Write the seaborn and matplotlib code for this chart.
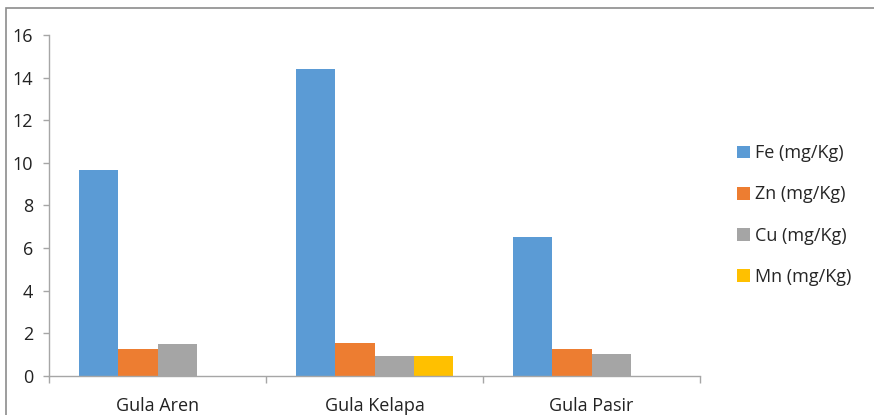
import numpy as np
import pandas as pd
import matplotlib
matplotlib.use("Agg")
import matplotlib.pyplot as plt
from matplotlib.patches import Rectangle
import seaborn as sns

# Mineral content of three kinds of palm/cane sugar
categories = ["Gula Aren", "Gula Kelapa", "Gula Pasir"]
series = ["Fe (mg/Kg)", "Zn (mg/Kg)", "Cu (mg/Kg)", "Mn (mg/Kg)"]
fe = [9.67, 14.41, 6.54]
zn = [1.27, 1.56, 1.27]
cu = [1.49, 0.95, 1.03]
mn = [0.0, 0.95, 0.0]
colors = ["#5B9BD5", "#ED7D31", "#A5A5A5", "#FFC000"]

rows = []
for name, vals in zip(series, [fe, zn, cu, mn]):
    for cat, v in zip(categories, vals):
        rows.append({"Sugar": cat, "Element": name, "Value": v})
df = pd.DataFrame(rows)

sns.set_style("white")
plt.rcParams["font.family"] = ["Open Sans", "DejaVu Sans"]

fig = plt.figure(figsize=(8.74, 4.15), dpi=100)
ax = fig.add_axes([49 / 874, 1 - 376 / 415, (700 - 49) / 874, (376 - 35) / 415])

sns.barplot(data=df, x="Sugar", y="Value", hue="Element", order=categories,
            hue_order=series, palette=colors, width=0.72, gap=0,
            linewidth=0, saturation=1, errorbar=None, ax=ax)

ax.set_xlim(-0.5, 2.5)
ax.set_ylim(0, 16)
ax.set_yticks(np.arange(0, 17, 2))
ax.set_xlabel("")
ax.set_ylabel("")

for side in ["top", "right"]:
    ax.spines[side].set_visible(False)
for side in ["left", "bottom"]:
    ax.spines[side].set_color("#A6A6A6")
    ax.spines[side].set_linewidth(1.0)

ax.tick_params(axis="y", which="major", length=4.3, width=1, color="#A6A6A6",
               labelsize=13, labelcolor="#222222", pad=7, left=True)
ax.tick_params(axis="x", which="major", length=0, labelsize=13,
               labelcolor="#222222", pad=15)
ax.set_xticks([-0.5, 0.5, 1.5, 2.5], minor=True)
ax.tick_params(axis="x", which="minor", length=5, width=1, color="#A6A6A6",
               bottom=True)

handles, labels = ax.get_legend_handles_labels()
ax.legend(handles, labels, loc="center left", bbox_to_anchor=(737 / 874, 1 - 215 / 415),
          bbox_transform=fig.transFigure, frameon=False, fontsize=13,
          labelspacing=1.28, handlelength=0.72, handleheight=0.72,
          handletextpad=0.3, borderaxespad=0, borderpad=0)

# Outer chart frame
fig.patches.append(Rectangle((6 / 874, -0.1), 1.2, 1 - 8 / 415 + 0.1,
                             transform=fig.transFigure, fill=False,
                             edgecolor="#8C8C8C", linewidth=1.2))

fig.savefig("out.png", dpi=100)
